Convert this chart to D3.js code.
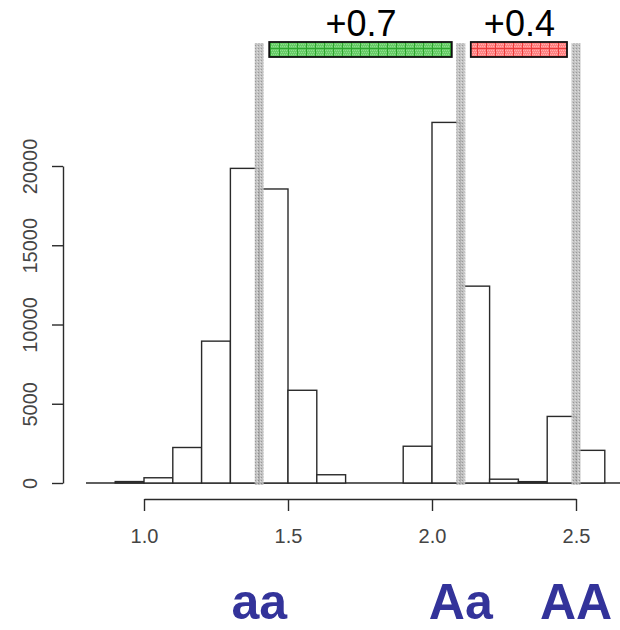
<!DOCTYPE html>
<html>
<head>
<meta charset="utf-8">
<script src="https://cdn.jsdelivr.net/npm/d3@7"></script>
<style>
  body { margin: 0; background: #fff; }
  svg { display: block; font-family: "Liberation Sans", Arial, sans-serif; }
</style>
</head>
<body>
<div id="chart"></div>
<script>
// histogram data (bins of 0.1)
var binStart = [0.9, 1.0, 1.1, 1.2, 1.3, 1.4, 1.5, 1.6, 1.7, 1.8, 1.9, 2.0, 2.1, 2.2, 2.3, 2.4, 2.5];
var counts   = [90, 330, 2240, 8950, 19850, 18550, 5850, 520, 0, 0, 2320, 22750, 12420, 240, 85, 4200, 2060];
var binWidth = 0.1;

// genotype markers
var genoPos    = [1.4, 2.1, 2.5];
var genoLabels = ["aa", "Aa", "AA"];

// effect bars between genotypes
var effectFrom   = [1.4, 2.1];
var effectTo     = [2.1, 2.5];
var effectLabels = ["+0.7", "+0.4"];
var effectColors = ["green", "red"];

var xTicks = [1.0, 1.5, 2.0, 2.5];
var yTicks = [0, 5000, 10000, 15000, 20000];

var width = 620, height = 630;

var svg = d3.select("#chart").append("svg")
    .attr("width", width)
    .attr("height", height);

// scales
var x = d3.scaleLinear().domain([1.0, 2.5]).range([144, 576]);
var y = d3.scaleLinear().domain([0, 20000]).range([483, 166]);

// patterns
var defs = svg.append("defs");

var pg = defs.append("pattern").attr("id", "grayPat")
    .attr("width", 3).attr("height", 3).attr("patternUnits", "userSpaceOnUse");
pg.append("rect").attr("width", 3).attr("height", 3).attr("fill", "#bdbdbd");
pg.append("rect").attr("x", 0).attr("y", 0).attr("width", 1).attr("height", 1).attr("fill", "#8e8e8e");
pg.append("rect").attr("x", 2).attr("y", 1).attr("width", 1).attr("height", 1).attr("fill", "#dadada");

function hatch(id, base, line, dot) {
  var p = defs.append("pattern").attr("id", id)
      .attr("width", 9).attr("height", 8).attr("patternUnits", "userSpaceOnUse");
  p.append("rect").attr("width", 9).attr("height", 8).attr("fill", base);
  for (var i = 0; i < 9; i += 2) {
    for (var j = 0; j < 8; j += 2) {
      p.append("rect").attr("x", i + (j % 4 ? 1 : 0)).attr("y", j).attr("width", 1).attr("height", 1).attr("fill", dot);
    }
  }
  p.append("rect").attr("x", 0).attr("y", 0).attr("width", 1).attr("height", 8).attr("fill", line);
  p.append("rect").attr("x", 0).attr("y", 0).attr("width", 9).attr("height", 1).attr("fill", line);
}
hatch("green", "#66cc66", "#2ea52e", "#8fe08f");
hatch("red", "#ff8080", "#ea3c3c", "#ffb0b0");

var ink = "#2a2a2a";

// baseline
svg.append("line")
    .attr("x1", 86).attr("x2", width)
    .attr("y1", y(0)).attr("y2", y(0))
    .attr("stroke", ink).attr("stroke-width", 1.5);

// histogram bars
svg.selectAll(".bar")
    .data(binStart.map(function(b, i) { return { x0: b, n: counts[i] }; }))
    .enter()
    .append("rect")
    .attr("class", "bar")
    .attr("x", function(d) { return x(d.x0); })
    .attr("y", function(d) { return y(d.n); })
    .attr("width", function(d) { return x(d.x0 + binWidth) - x(d.x0); })
    .attr("height", function(d) { return y(0) - y(d.n); })
    .attr("fill", "#fff")
    .attr("stroke", ink)
    .attr("stroke-width", 1.4);

// gray genotype bands
svg.selectAll(".band")
    .data(genoPos)
    .enter()
    .append("rect")
    .attr("class", "band")
    .attr("x", function(d) { return x(d) - 4.5; })
    .attr("y", 43)
    .attr("width", 9)
    .attr("height", 485 - 43)
    .attr("fill", "url(#grayPat)")
    .attr("opacity", 0.9);

// effect bars
var eff = svg.selectAll(".eff")
    .data(effectLabels.map(function(l, i) { return { a: effectFrom[i], b: effectTo[i], label: l, c: effectColors[i] }; }))
    .enter()
    .append("g");

eff.append("rect")
    .attr("x", function(d) { return x(d.a) + 10; })
    .attr("y", 42)
    .attr("width", function(d) { return x(d.b) - x(d.a) - 19; })
    .attr("height", 15)
    .attr("fill", function(d) { return "url(#" + d.c + ")"; })
    .attr("stroke", "#111")
    .attr("stroke-width", 1.8);

eff.append("text")
    .attr("x", function(d) { return (x(d.a) + x(d.b)) / 2 + 1; })
    .attr("y", 36)
    .attr("text-anchor", "middle")
    .attr("font-size", 36)
    .attr("fill", "#000")
    .text(function(d) { return d.label; });

// x axis (R style, offset below)
var xAxis = svg.append("g")
    .attr("transform", "translate(0,499)")
    .call(d3.axisBottom(x).tickValues(xTicks).tickSize(12).tickSizeOuter(0).tickPadding(18)
      .tickFormat(d3.format(".1f")));
xAxis.select(".domain").attr("stroke", ink).attr("stroke-width", 1.4);
xAxis.selectAll(".tick line").attr("stroke", ink).attr("stroke-width", 1.4);
xAxis.selectAll("text").attr("font-size", 20).attr("fill", "#444")
    .attr("font-family", "'Liberation Sans', Arial, sans-serif");

// y axis
var yAxis = svg.append("g")
    .attr("transform", "translate(63,0)")
    .call(d3.axisLeft(y).tickValues(yTicks).tickSize(11).tickSizeOuter(0)
      .tickFormat(d3.format("d")));
yAxis.select(".domain").attr("stroke", ink).attr("stroke-width", 1.4);
yAxis.selectAll(".tick line").attr("stroke", ink).attr("stroke-width", 1.4);
yAxis.selectAll("text")
    .attr("transform", "rotate(-90)")
    .attr("x", 0)
    .attr("y", -26)
    .attr("dy", 0)
    .attr("text-anchor", "middle")
    .attr("font-size", 20)
    .attr("fill", "#444")
    .attr("font-family", "'Liberation Sans', Arial, sans-serif");

// genotype labels
svg.selectAll(".geno")
    .data(genoLabels)
    .enter()
    .append("text")
    .attr("x", function(d, i) { return x(genoPos[i]); })
    .attr("y", 619)
    .attr("text-anchor", "middle")
    .attr("font-size", 50)
    .attr("font-weight", "bold")
    .attr("fill", "#33339a")
    .text(function(d) { return d; });
</script>
</body>
</html>
